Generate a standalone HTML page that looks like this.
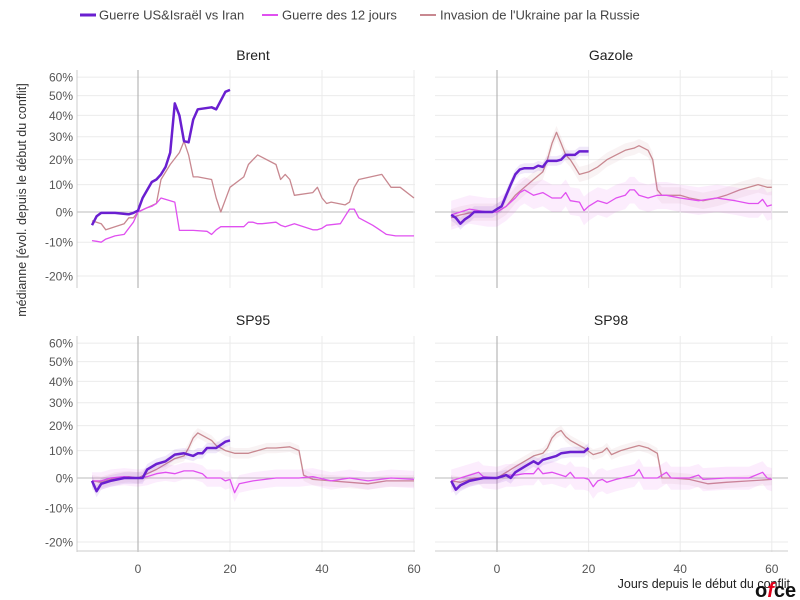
<!DOCTYPE html>
<html><head><meta charset="utf-8"><style>
html,body{margin:0;padding:0;background:#fff;width:800px;height:600px;overflow:hidden}
svg{font-family:"Liberation Sans","DejaVu Sans",sans-serif}
</style></head><body>
<svg id="s" width="800" height="600" xmlns="http://www.w3.org/2000/svg">
<g font-size="13" fill="#444">
<line x1="80" y1="15" x2="96" y2="15" stroke="#6a1fd0" stroke-width="3"/><text x="99" y="19.5">Guerre US&amp;Israël vs Iran</text>
<line x1="262" y1="15" x2="278" y2="15" stroke="#e050f0" stroke-width="2"/><text x="282" y="19.5">Guerre des 12 jours</text>
<line x1="420" y1="15" x2="436" y2="15" stroke="#c88890" stroke-width="2"/><text x="440" y="19.5">Invasion de l'Ukraine par la Russie</text>
</g>
<g font-size="14" fill="#222" text-anchor="middle">
<text x="253" y="60">Brent</text><text x="611" y="60">Gazole</text>
<text x="253" y="325">SP95</text><text x="611" y="325">SP98</text>
</g>
<text transform="translate(26,200) rotate(-90)" font-size="12.5" fill="#333" text-anchor="middle">médianne [évol. depuis le début du conflit]</text>
<text x="790" y="588" font-size="12.5" fill="#222" text-anchor="end">Jours depuis le début du conflit</text>
<text x="755" y="597" font-size="20" font-weight="bold" fill="#111">o<tspan fill="#e2001a" font-style="italic">f</tspan>ce</text>
<g id="g"></g>
</svg>
<script>
const g=document.getElementById('g');let h='';
const P=[{x0:138,k:4.6,xl:77,xr:415,y0:212,yt:70,yb:288,lab:1},{x0:497,k:4.58,xl:435,xr:788,y0:212,yt:70,yb:288,lab:0},
{x0:138,k:4.6,xl:77,xr:415,y0:478,yt:336,yb:552,lab:1,bot:1},{x0:497,k:4.58,xl:435,xr:788,y0:478,yt:336,yb:552,lab:0,bot:1}];
const Y=(p,pp)=>pp.y0-287*Math.log(1+p/100);
const X=(d,pp)=>pp.x0+pp.k*d;
P.forEach(pp=>{
 [60,50,40,30,20,10,0,-10,-20].forEach(t=>{const y=Y(t,pp);
  h+=`<line x1="${pp.xl}" x2="${pp.xr}" y1="${y}" y2="${y}" stroke="${t==0?'#bbb':'#ebebeb'}" stroke-width="1"/>`;
  if(pp.lab)h+=`<text x="73" y="${y+4.5}" font-size="12" fill="#555" text-anchor="end">${t}%</text>`;});
 [0,20,40,60].forEach(d=>{const x=X(d,pp);
  h+=`<line x1="${x}" x2="${x}" y1="${pp.yt}" y2="${pp.yb}" stroke="${d==0?'#aaa':'#ebebeb'}"/>`;
  if(pp.bot)h+=`<text x="${x}" y="573" font-size="12" fill="#555" text-anchor="middle">${d}</text>`;});
 if(pp.lab)h+=`<line x1="77" x2="77" y1="${pp.yt}" y2="${pp.yb}" stroke="#ccc"/>`;
 if(pp.bot)h+=`<line x1="${pp.xl}" x2="${pp.xr}" y1="551" y2="551" stroke="#ccc"/>`;
});
function line(pp,pts,col,w,band){
 const s=pts.map(p=>X(p[0],pp).toFixed(1)+','+Y(p[1],pp).toFixed(1)).join(' ');
 if(band){const up=pts.map(p=>X(p[0],pp).toFixed(1)+','+Y(p[1]+band,pp).toFixed(1));
  const dn=pts.slice().reverse().map(p=>X(p[0],pp).toFixed(1)+','+Y(p[1]-band,pp).toFixed(1));
  h+=`<polygon points="${up.concat(dn).join(' ')}" fill="${col}" fill-opacity="0.1"/>`;}
 h+=`<polyline points="${s}" fill="none" stroke="${col}" stroke-width="${w}" stroke-linejoin="round"/>`;
}
const PU='#6a1fd0',MA='#e050f0',BR='#c88890';
// Brent
line(P[0],[[-10,-3],[-8,-4],[-7,-6],[-3,-4],[-2,-2],[-1,-2],[0,0],[2,1.5],[4,3],[5,12],[7,18],[9,23],[10,28],[11,22],[12,13],[13,13],[16,12],[17,5],[18,0],[20,9],[23,13],[24,18],[26,22],[30,18],[31,12],[32,14],[33,12],[34,6],[38,7],[39,9],[40,5],[41,3],[42,3.5],[45,2.5],[46,3.5],[47,9],[48,12],[53,14],[55,9],[56,9],[57,9],[60,5]],BR,1.3);
line(P[0],[[-10,-9.5],[-9,-9.7],[-8,-10],[-7,-9],[-5,-8],[-3,-7.5],[-2,-5.5],[-1,-3.5],[0,0],[2,1.5],[3,2],[4,3],[5,5],[6,4.5],[8,3.5],[9,-6.2],[12,-6.2],[15,-6.5],[16,-7.5],[17,-6],[18,-5],[20,-5],[23,-5],[24,-3.5],[25,-3.5],[26,-4],[27,-4],[30,-3.5],[31,-4.5],[32,-5],[34,-4],[38,-6],[39,-6],[40,-5.5],[41,-4.5],[44,-4],[45,-1.5],[46,1],[47,1],[48,-2],[51,-4.5],[52,-5.5],[54,-7.5],[56,-8],[60,-8]],MA,1.3);
line(P[0],[[-10,-4.5],[-9,-1.5],[-8,-0.3],[-5,-0.3],[-2,-0.8],[-1,-0.3],[0,0.5],[1,5],[3,11],[4,12],[5,14],[6,17],[7,23],[8,46],[9,40],[10,28],[11,27.5],[12,38],[13,43],[16,44],[17,43],[19,52],[20,53]],PU,2.5);
// Gazole
line(P[1],[[-10,-2],[-8,-1],[-5,0],[-1,0],[0,0],[2,2],[4,6],[6,9],[8,12],[10,15],[11,20],[12,27],[13,32],[14,27],[15,22],[16,20],[17,17],[18,14],[20,15],[22,17],[24,20],[26,22],[28,24],[30,25],[31,26],[33,24],[34,20],[35,8],[36,6],[40,6],[42,5],[45,4],[48,5],[50,6],[53,8],[55,9],[57,10],[59,9],[60,9]],BR,1.3,3);
line(P[1],[[-10,-1],[-8,0],[-6,1],[-4,0.5],[-2,0],[0,0],[2,2],[4,5],[5,7],[6,8],[8,6],[10,7],[12,5],[14,5],[15,7],[16,4],[18,3.5],[19,0.5],[20,2],[22,4],[24,3],[26,5],[28,6],[29,8],[30,8],[31,6],[33,5],[35,6],[37,6],[40,5],[44,4],[48,5],[52,4],[55,3],[57,3],[58,4.5],[59,2],[60,2.5]],MA,1.3,5);
line(P[1],[[-10,-1],[-9,-2],[-8,-4],[-7,-2.5],[-6,-1.5],[-5,0],[-2,0],[-1,0],[0,1],[1,2],[2,6],[3,10],[4,14],[5,16],[6,16.5],[8,16.5],[9,17.5],[10,17],[11,19.5],[13,19.5],[14,20],[15,22],[17,22],[18,23.5],[20,23.5]],PU,2.5,2);
// SP95
line(P[2],[[-10,-1],[-8,-1.5],[-5,0],[-2,0.5],[0,0],[2,1.5],[4,3],[6,5],[8,7],[10,8],[11,11],[12,15],[13,17],[14,16],[15,15],[16,14],[17,12],[19,10],[21,9],[24,9],[26,10],[28,11],[30,11],[33,11.5],[35,10],[36,1],[38,-0.5],[42,-1],[46,-1.5],[50,-2],[54,-1],[58,-1],[60,-1]],BR,1.3,2);
line(P[2],[[-10,-1],[-8,-1],[-6,0],[-3,0.5],[0,0],[2,0.5],[4,1.5],[6,2],[8,1.5],[10,2.5],[12,2.5],[14,1.5],[15,0],[18,0],[19,-1],[20,-0.5],[21,-5],[22,-2],[25,-1],[30,0],[35,0],[38,0.5],[42,-1],[46,0],[50,-1],[55,0],[60,-0.5]],MA,1.3,3);
line(P[2],[[-10,-1],[-9,-4.5],[-8,-2],[-6,-1],[-3,0],[0,0],[1,0],[2,3],[4,5],[6,6],[8,8.5],[10,9],[12,8],[13,9],[14,9],[15,11],[17,11],[19,13.5],[20,14]],PU,2.5,2);
// SP98
line(P[3],[[-10,-1],[-8,-1.5],[-5,0],[-2,0],[0,0],[2,2],[4,4],[6,6],[8,8],[10,9],[11,11],[12,15],[13,17],[14,18],[15,15.5],[16,14],[18,12],[19,11],[21,8.5],[23,9.5],[24,11],[25,8.5],[27,10],[29,11],[31,12],[33,11],[35,9],[36,0],[38,0],[42,-0.5],[46,-2],[50,-1.5],[55,-1],[60,-0.5]],BR,1.3,2);
line(P[3],[[-10,-1],[-8,0],[-6,1],[-4,2],[-3,0.5],[0,0],[2,1],[4,1],[6,1.5],[8,1.5],[9,3.5],[10,1.5],[12,2],[14,1],[15,0.5],[16,2],[17,0],[19,0],[20,-0.5],[21,-3],[22,-1],[23,-0.5],[24,-1.5],[26,-0.5],[30,1],[31,3],[32,0],[35,0],[37,2],[38,0],[42,0],[44,1],[45,-0.5],[50,0],[55,0],[58,2],[59,0],[60,-0.5]],MA,1.3,4);
line(P[3],[[-10,-1],[-9,-4],[-8,-2.5],[-6,-1],[-3,0],[0,0],[2,1],[3,0],[4,2],[6,4],[8,6],[9,5],[10,6.5],[11,7],[13,8],[14,9],[16,9.5],[18,9.5],[19,9.5],[20,11]],PU,2.5,2);
g.innerHTML=h;
</script>
</body></html>
